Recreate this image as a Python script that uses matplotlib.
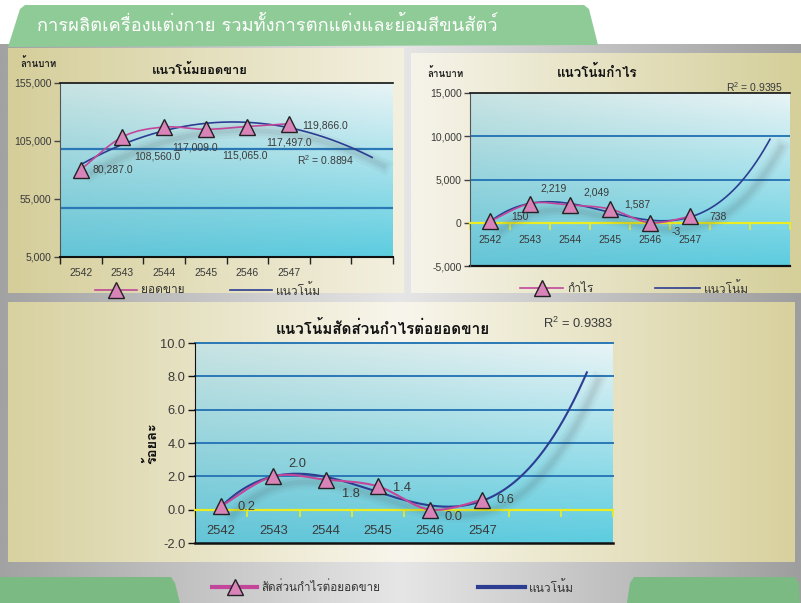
import numpy as np
import matplotlib
matplotlib.use('Agg')
import matplotlib.pyplot as plt
from matplotlib import font_manager as fm
from matplotlib.ft2font import FT2Font
from matplotlib.path import Path
from matplotlib.patches import PathPatch, Polygon
from matplotlib.lines import Line2D
import matplotlib.patheffects as pe

# ---------------- data ----------------
main_title = 'การผลิตเครื่องแต่งกาย รวมทั้งการตกแต่งและย้อมสีขนสัตว์'
years = ['2542', '2543', '2544', '2545', '2546', '2547']
n_slots = 8  # category slots on the x axis (two empty forecast slots)

sales = [80287.0, 108560.0, 117009.0, 115065.0, 117497.0, 119866.0]
sales_ticks = [5000, 55000, 105000, 155000]
sales_grid = [98000, 47500]
sales_r2 = '0.8894'

profit = [150, 2219, 2049, 1587, -3, 738]
profit_ticks = [-5000, 0, 5000, 10000, 15000]
profit_r2 = '0.9395'

ratio = [0.2, 2.0, 1.8, 1.4, 0.0, 0.6]
ratio_ticks = [-2.0, 0.0, 2.0, 4.0, 6.0, 8.0, 10.0]
ratio_r2 = '0.9383'

# ---------------- fonts ----------------
def thai_font():
    names = []
    for f in fm.fontManager.ttflist:
        try:
            if 0x0E01 in FT2Font(f.fname).get_charmap():
                names.append(f.name)
        except Exception:
            pass
    for p in ['Tahoma', 'Loma', 'Garuda', 'Noto Sans Thai', 'Noto Sans Thai UI',
              'Waree', 'Umpush', 'Sarabun', 'Kinnari', 'Norasi']:
        if p in names:
            return p
    return names[0] if names else 'DejaVu Sans'

avail = {f.name for f in fm.fontManager.ttflist}
THAI = [thai_font(), 'DejaVu Sans']
NARROW = 'Liberation Sans Narrow' in avail
NUM = ['Liberation Sans Narrow' if NARROW else 'Liberation Sans', 'DejaVu Sans']
FS_TOP = 8.5 if NARROW else 7.5
FS_BOT = 10.5 if NARROW else 9.3
TXT = '#3a3a3a'
PINK = '#c2479a'
MFACE = '#d884b8'
BLUE = '#2c3d92'
GRID = '#2a78b6'
YEL = '#ecec22'

W, H = 801, 603
fig = plt.figure(figsize=(W / 100, H / 100), dpi=100)
fig.patch.set_facecolor('white')
bg = fig.add_axes([0, 0, 1, 1])
bg.axis('off')

def rgb(h):
    return np.array(matplotlib.colors.to_rgb(h))

def grad_h(stops, n=256):
    xs = np.linspace(0, 1, n)
    pos = [s[0] for s in stops]
    cols = np.array([rgb(s[1]) for s in stops])
    arr = np.stack([np.interp(xs, pos, cols[:, k]) for k in range(3)], axis=-1)
    return arr[None, :, :]

def grad_2d(tl, tr, bl, br, n=64):
    u = np.linspace(0, 1, n)[None, :, None]
    v = np.linspace(0, 1, n)[:, None, None]
    top = rgb(tl) * (1 - u) + rgb(tr) * u
    bot = rgb(bl) * (1 - u) + rgb(br) * u
    return top * (1 - v) + bot * v

def put(img, l, t, r, b, z=0):
    bg.imshow(img, extent=[l, r, b, t], aspect='auto', interpolation='bilinear', zorder=z)

# frame and panels
put(grad_h([(0, '#a2a2a2'), (0.5, '#e6e6e6'), (1, '#9e9e9e')]), 0, 44, 801, 603, z=1)
bg.add_patch(Polygon([(0, 577), (171, 577), (175, 583), (180, 603), (0, 603)],
                     closed=True, fc='#7cba84', ec='none', zorder=2))
bg.add_patch(Polygon([(627, 603), (630, 583), (634, 577), (795, 577), (799, 583), (800, 603)],
                     closed=True, fc='#7cba84', ec='none', zorder=2))
bg.add_patch(Polygon([(8, 47), (20, 9), (25, 5), (584, 5), (589, 9), (598, 45)],
                     closed=True, fc='#8fcb96', ec='none', zorder=2))
put(grad_h([(0, '#d5ce9a'), (1, '#f3f0e0')]), 8, 48, 404, 293, z=2)
put(grad_h([(0, '#f6f4ea'), (1, '#d5cf9a')]), 411, 53, 801, 293, z=2)
put(grad_h([(0, '#d8d1a0'), (0.5, '#f8f6ec'), (1, '#d8d19e')]), 8, 302, 795, 562, z=2)

BOX_TL = (60, 83, 393, 257)
BOX_TR = (470, 93, 790, 266)
BOX_B = (195, 343, 613, 543)
for bx in (BOX_TL, BOX_TR, BOX_B):
    put(grad_2d('#c8e3e2', '#e8f4f6', '#64c5d7', '#5dcde0'), *bx, z=3)

bg.text(37, 25, main_title, color='white', fontsize=13.2, family=THAI,
        ha='left', va='center', zorder=5)

# ---------------- helpers ----------------
def smooth_path(xs, ys):
    pts = list(zip(xs, ys))
    n = len(pts)
    verts = [pts[0]]
    codes = [Path.MOVETO]
    k = 1 / 6
    for i in range(n - 1):
        p0 = pts[i - 1] if i > 0 else pts[i]
        p1, p2 = pts[i], pts[i + 1]
        p3 = pts[i + 2] if i + 2 < n else pts[i + 1]
        c1 = (p1[0] + (p2[0] - p0[0]) * k, p1[1] + (p2[1] - p0[1]) * k)
        c2 = (p2[0] - (p3[0] - p1[0]) * k, p2[1] - (p3[1] - p1[1]) * k)
        verts += [c1, c2, p2]
        codes += [Path.CURVE4] * 3
    return Path(verts, codes)

def make_axes(box, ylim, yticks, ylabels, fs, pad, zero_axis=False):
    l, t, r, b = box
    ax = fig.add_axes([l / W, 1 - b / H, (r - l) / W, (b - t) / H])
    ax.patch.set_visible(False)
    if zero_axis:
        ax.spines['bottom'].set_position(('data', 0))
    ax.set_xlim(-0.5, n_slots - 0.5)
    ax.set_ylim(*ylim)
    ax.set_yticks(yticks)
    ax.set_yticklabels(ylabels, fontsize=fs, family=NUM, color=TXT)
    ax.set_xticks(range(len(years)))
    ax.set_xticklabels(years, fontsize=fs, family=NUM, color=TXT)
    ax.set_xticks(np.arange(-0.5, n_slots), minor=True)
    ax.tick_params(axis='x', which='major', length=0, pad=pad)
    ax.tick_params(axis='y', which='major', length=4, width=1, color='#444', pad=2)
    ax.tick_params(axis='y', which='minor', left=False)
    ax.spines['right'].set_visible(False)
    ax.spines['left'].set_color('#555')
    return ax

def shadow():
    return [pe.SimpleLineShadow(offset=(8, -6), shadow_color='#333', alpha=0.035, linewidth=11),
            pe.SimpleLineShadow(offset=(8, -6), shadow_color='#333', alpha=0.05, linewidth=7),
            pe.SimpleLineShadow(offset=(8, -6), shadow_color='#333', alpha=0.06, linewidth=3.5),
            pe.Normal()]

def draw_series(ax, vals, order, lw, offs, fmt, fs, ha):
    x = np.arange(len(vals))
    xf = np.arange(1, len(vals) + 1)
    coef = np.polyfit(xf, vals, order)
    xx = np.linspace(1, n_slots, 300)
    ax.plot(xx - 1, np.polyval(coef, xx), color=BLUE, lw=lw, zorder=3,
            path_effects=shadow())
    ax.add_patch(PathPatch(smooth_path(x, vals), fill=False, ec=PINK, lw=lw, zorder=4))
    ax.plot(x, vals, ls='none', marker='^', ms=11, mfc=MFACE, mec='#222', mew=1, zorder=5)
    for i, v in enumerate(vals):
        ax.annotate(fmt(v), (i, v), xytext=offs[i], textcoords='offset pixels',
                    ha=ha, va='center', fontsize=fs, family=NUM, color=TXT, zorder=6)

# ---------------- top-left: sales ----------------
ax1 = make_axes(BOX_TL, (sales_ticks[0], sales_ticks[-1]), sales_ticks,
                [f'{v:,.0f}' for v in sales_ticks], FS_TOP, 8)
ax1.tick_params(axis='x', which='minor', length=5, width=1, color='#222')
ax1.spines['bottom'].set_color('#111'); ax1.spines['bottom'].set_linewidth(1.5)
ax1.spines['top'].set_color('#111'); ax1.spines['top'].set_linewidth(1.2)
for g in sales_grid:
    ax1.axhline(g, color=GRID, lw=1.6, zorder=1)
draw_series(ax1, sales, 2, 1.2,
            [(12, 0), (12, -20), (8, -20), (17, -26), (19, -16), (13, -2)],
            lambda v: f'{v:,.1f}', FS_TOP, 'left')
ax1.text(0.712, 0.557, 'R$^{\\mathregular{2}}$ = ' + sales_r2, transform=ax1.transAxes,
         fontsize=FS_TOP, family=NUM, color=TXT, ha='left', va='center')
bg.text(200, 70, 'แนวโน้มยอดขาย', fontsize=9.3, weight='bold', family=THAI,
        ha='center', va='center', color='#111', zorder=5)
bg.text(20, 63, 'ล้านบาท', fontsize=7, weight='bold', family=THAI,
        ha='left', va='center', color='#222', zorder=5)

# ---------------- top-right: profit ----------------
ax2 = make_axes(BOX_TR, (profit_ticks[0], profit_ticks[-1]), profit_ticks,
                [f'{v:,.0f}' for v in profit_ticks], FS_TOP, 9, zero_axis=True)
ax2.spines['bottom'].set_color(YEL); ax2.spines['bottom'].set_linewidth(1.6)
ax2.tick_params(axis='x', which='minor', length=5, width=1.2, color=YEL)
ax2.spines['top'].set_color('#111'); ax2.spines['top'].set_linewidth(1.2)
ax2.axhline(profit_ticks[0], color='#111', lw=1.6, clip_on=False, zorder=2)
for g in profit_ticks:
    if 0 < g < profit_ticks[-1]:
        ax2.axhline(g, color=GRID, lw=1.4, zorder=1)
draw_series(ax2, profit, 3, 1.2,
            [(30, 4), (24, 15), (26, 13), (27, 5), (26, -9), (28, -1)],
            lambda v: f'{v:,.0f}', FS_TOP, 'center')
ax2.text(0.978, 1.035, 'R$^{\\mathregular{2}}$ = ' + profit_r2, transform=ax2.transAxes,
         fontsize=FS_TOP, family=NUM, color=TXT, ha='right', va='center')
bg.text(597, 72, 'แนวโน้มกำไร', fontsize=9.6, weight='bold', family=THAI,
        ha='center', va='center', color='#111', zorder=5)
bg.text(427, 73, 'ล้านบาท', fontsize=7, weight='bold', family=THAI,
        ha='left', va='center', color='#222', zorder=5)

# ---------------- bottom: ratio ----------------
ax3 = make_axes(BOX_B, (ratio_ticks[0], ratio_ticks[-1]), ratio_ticks,
                [f'{v:.1f}' for v in ratio_ticks], FS_BOT, 11, zero_axis=True)
ax3.spines['bottom'].set_color(YEL); ax3.spines['bottom'].set_linewidth(1.6)
ax3.tick_params(axis='x', which='minor', length=5, width=1.2, color=YEL)
ax3.spines['top'].set_visible(False)
ax3.spines['left'].set_color('#111')
ax3.tick_params(axis='y', which='major', color='#111', length=5)
ax3.axhline(ratio_ticks[0], color='#111', lw=1.8, clip_on=False, zorder=2)
for g in ratio_ticks:
    if g > 0:
        ax3.axhline(g, color=GRID, lw=1.4, zorder=1, clip_on=False)
draw_series(ax3, ratio, 3, 1.5,
            [(25, -1), (24, 12), (25, -14), (24, -2), (23, -7), (23, 0)],
            lambda v: f'{v:.1f}', FS_BOT, 'center')
ax3.text(1.0, 1.10, 'R$^{\\mathregular{2}}$ = ' + ratio_r2, transform=ax3.transAxes,
         fontsize=FS_BOT, family=NUM, color=TXT, ha='right', va='center')
bg.text(383, 328, 'แนวโน้มสัดส่วนกำไรต่อยอดขาย', fontsize=11, weight='bold', family=THAI,
        ha='center', va='center', color='#111', zorder=5)
bg.text(152, 443, 'ร้อยละ', fontsize=10.5, weight='bold', family=THAI, rotation=90,
        ha='center', va='center', color='#111', zorder=5)

# ---------------- legends ----------------
def legend_item(x0, x1, y, color, lw, label, fs, marker):
    bg.add_line(Line2D([x0, x1], [y, y], color=color, lw=lw, zorder=6))
    if marker:
        bg.add_line(Line2D([(x0 + x1) / 2], [y], ls='none', marker='^', ms=11,
                           mfc=MFACE, mec='#222', mew=1, zorder=7))
    bg.text(x1 + 4, y, label, fontsize=fs, family=THAI, color='#333',
            ha='left', va='center', zorder=7)

legend_item(95, 137, 290, PINK, 1.2, 'ยอดขาย', 8.6, True)
legend_item(230, 272, 290, BLUE, 1.2, 'แนวโน้ม', 8.6, False)
legend_item(520, 563, 288, PINK, 1.2, 'กำไร', 8.6, True)
legend_item(655, 700, 288, BLUE, 1.2, 'แนวโน้ม', 8.6, False)
legend_item(212, 257, 587, PINK, 3, 'สัดส่วนกำไรต่อยอดขาย', 8.4, True)
legend_item(478, 525, 587, BLUE, 3, 'แนวโน้ม', 8.6, False)

bg.set_xlim(0, W)
bg.set_ylim(H, 0)

fig.savefig('out.png', dpi=100, facecolor='white')
